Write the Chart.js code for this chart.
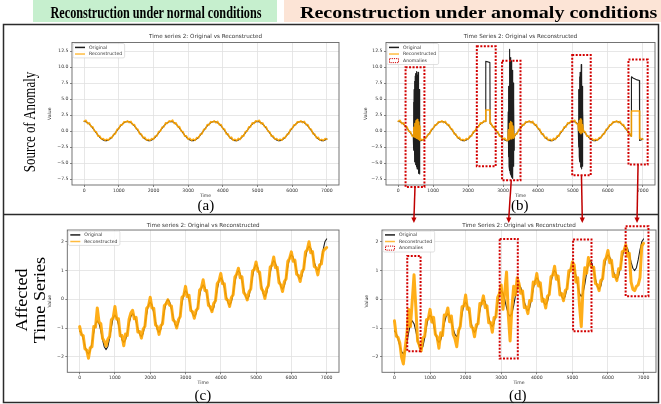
<!DOCTYPE html>
<html>
<head>
<meta charset="utf-8">
<script src="https://cdn.jsdelivr.net/npm/chart.js@4.4.1/dist/chart.umd.min.js"></script>
<style>
  html, body { margin: 0; padding: 0; background: #fff; }
  #page { position: relative; width: 661px; height: 404px; overflow: hidden; background: #fff; }
  canvas { position: absolute; }
  .txt { position: absolute; white-space: nowrap; line-height: 1; color: #000; transform-origin: center center; }
  .hdr { font: bold 17px "Liberation Serif", serif; }
  .side { font: 16px "Liberation Serif", serif; line-height: 18px; text-align: center; }
  .tag { font: 15px "Liberation Serif", serif; }
</style>
</head>
<body>
<div id="page">
  <canvas id="chartA" width="297" height="169" style="left:44px;top:30px"></canvas>
  <canvas id="chartB" width="297" height="169" style="left:360px;top:30px"></canvas>
  <canvas id="chartC" width="297" height="167" style="left:44px;top:219px"></canvas>
  <canvas id="chartD" width="297" height="167" style="left:361px;top:219px"></canvas>
  <canvas id="deco" width="661" height="404" style="left:0;top:0;pointer-events:none"></canvas>
  <div id="hdrL" class="txt hdr">Reconstruction under normal conditions</div>
  <div id="hdrR" class="txt hdr">Reconstruction under anomaly conditions</div>
  <div id="sideTop" class="txt side">Source of Anomaly</div>
  <div id="sideBot" class="txt side">Affected<br>Time Series</div>
  <div id="tagA" class="txt tag">(a)</div>
  <div id="tagB" class="txt tag">(b)</div>
  <div id="tagC" class="txt tag">(c)</div>
  <div id="tagD" class="txt tag">(d)</div>
</div>
<script>
// sample spacing of the series (time units)
const STEP = 50

const xTicks = [0, 1000, 2000, 3000, 4000, 5000, 6000, 7000]
const xTickLabels = ['0', '1000', '2000', '3000', '4000', '5000', '6000', '7000']
const yTicksTop = [-7.5, -5, -2.5, 0, 2.5, 5, 7.5, 10, 12.5]
const yTickLabelsTop = ['\u22127.5', '\u22125.0', '\u22122.5', '0.0', '2.5', '5.0', '7.5', '10.0', '12.5']
const yTicksBottom = [-2, -1, 0, 1, 2]
const yTickLabelsBottom = ['\u22122', '\u22121', '0', '1', '2']

// series 2, periodic signal (top row)
const sineOrig = [
  1.5, 1.45, 1.31, 1.09, 0.8, 0.46, 0.09, -0.28, -0.64, -0.96, -1.21, -1.4, -1.49, -1.49, -1.4, -1.21, -0.96, -0.64, -0.28, 0.09, 0.46, 0.8, 1.09, 1.31, 1.45,
  1.5, 1.45, 1.31, 1.09, 0.8, 0.46, 0.09, -0.28, -0.64, -0.96, -1.21, -1.4, -1.49, -1.49, -1.4, -1.21, -0.96, -0.64, -0.28, 0.09, 0.46, 0.8, 1.09, 1.31, 1.45,
  1.5, 1.45, 1.31, 1.09, 0.8, 0.46, 0.09, -0.28, -0.64, -0.96, -1.21, -1.4, -1.49, -1.49, -1.4, -1.21, -0.96, -0.64, -0.28, 0.09, 0.46, 0.8, 1.09, 1.31, 1.45,
  1.5, 1.45, 1.31, 1.09, 0.8, 0.46, 0.09, -0.28, -0.64, -0.96, -1.21, -1.4, -1.49, -1.49, -1.4, -1.21, -0.96, -0.64, -0.28, 0.09, 0.46, 0.8, 1.09, 1.31, 1.45,
  1.5, 1.45, 1.31, 1.09, 0.8, 0.46, 0.09, -0.28, -0.64, -0.96, -1.21, -1.4, -1.49, -1.49, -1.4, -1.21, -0.96, -0.64, -0.28, 0.09, 0.46, 0.8, 1.09, 1.31, 1.45,
  1.5, 1.45, 1.31, 1.09, 0.8, 0.46, 0.09, -0.28, -0.64, -0.96, -1.21, -1.4, -1.49, -1.49, -1.4, -1.21
]
const sineRec = [
  1.55, 1.7, 1.16, 1.29, 0.68, 0.68, -0.01, -0.1, -0.79, -0.76, -1.26, -1.15, -1.44, -1.27, -1.42, -1.01, -1.06, -0.49, -0.43, 0.29, 0.36, 1.0, 0.97, 1.46, 1.4,
  1.6, 1.33, 1.51, 0.99, 1.02, 0.38, 0.29, -0.43, -0.46, -1.06, -0.96, -1.42, -1.29, -1.47, -1.15, -1.29, -0.76, -0.76, -0.08, -0.01, 0.64, 0.65, 1.29, 1.21, 1.6,
  1.52, 1.72, 1.18, 1.3, 0.66, 0.7, -0.03, -0.08, -0.8, -0.74, -1.28, -1.12, -1.46, -1.25, -1.44, -0.99, -1.08, -0.47, -0.45, 0.3, 0.34, 1.02, 0.95, 1.48, 1.38,
  1.62, 1.3, 1.53, 0.97, 1.04, 0.36, 0.31, -0.45, -0.44, -1.08, -0.94, -1.44, -1.27, -1.5, -1.13, -1.31, -0.74, -0.78, -0.06, -0.03, 0.66, 0.63, 1.31, 1.19, 1.62,
  1.55, 1.7, 1.16, 1.29, 0.68, 0.68, -0.01, -0.1, -0.79, -0.76, -1.26, -1.15, -1.44, -1.27, -1.42, -1.01, -1.06, -0.49, -0.43, 0.29, 0.36, 1.0, 0.97, 1.46, 1.4,
  1.6, 1.33, 1.51, 0.99, 1.02, 0.38, 0.29, -0.43, -0.46, -1.06, -0.96, -1.42, -1.29, -1.47, -1.15, -1.29
]

// injected anomalies in the source series, [time, value]
const spike1Orig = [[430, -0.8], [438, 4.5], [446, -3.0], [454, 6.5], [462, -4.2], [470, 7.8], [478, -4.8], [486, 8.6], [494, -5.2], [502, 9.0], [510, -5.0], [518, 8.4], [526, -5.6], [534, 9.3], [542, -5.9], [550, 8.8], [558, -5.4], [566, 9.2], [574, -6.0], [582, 8.0], [590, -6.6], [598, 6.5], [606, -6.7], [614, 4.0], [622, -1.5]]
const shift2Orig = [[2500, 1.5], [2506, 10.9], [2540, 10.85], [2580, 10.8], [2624, 10.7], [2630, 1.2]]
const spike3Orig = [[3140, -1.5], [3148, 3.0], [3156, -4.0], [3164, 7.0], [3172, -5.5], [3180, 10.5], [3188, -6.2], [3196, 12.8], [3204, -6.5], [3212, 11.5], [3220, -6.8], [3228, 10.2], [3236, -7.0], [3244, 11.0], [3252, -7.2], [3260, 9.5], [3268, -7.4], [3276, 8.8], [3284, -6.8], [3292, 7.5], [3300, -5.5], [3308, 4.5], [3316, -3.0], [3322, -0.85]]
const spike4Orig = [[5150, 1.09], [5158, 4.0], [5166, -2.5], [5174, 6.5], [5182, -4.0], [5190, 8.5], [5198, -4.8], [5206, 9.2], [5214, -5.3], [5222, 8.8], [5230, -5.6], [5238, 10.4], [5246, -5.9], [5254, 9.0], [5262, -5.5], [5270, 7.0], [5278, -4.0], [5286, 3.5], [5292, 0.15]]
const shift5Orig = [[6670, -0.8], [6676, 8.5], [6720, 8.3], [6780, 8.15], [6840, 8.0], [6904, 7.9], [6910, -1.45]]

const spike1Rec = [[430, -0.85], [446, 0.6], [462, -0.9], [478, 1.2], [494, -1.0], [510, 1.6], [526, -1.1], [542, 1.8], [558, -1.2], [574, 1.4], [590, -1.3], [606, 0.8], [622, -1.45]]
const shift2Rec = [[2500, 1.5], [2506, 3.3], [2624, 3.3], [2630, 1.2]]
const spike3Rec = [[3140, -1.45], [3156, 0.2], [3172, -1.3], [3188, 1.2], [3204, -1.0], [3220, 1.5], [3236, -1.2], [3252, 1.3], [3268, -0.9], [3284, 0.8], [3300, -1.1], [3322, -0.9]]
const spike4Rec = [[5150, 1.1], [5166, 0.1], [5182, 1.6], [5198, -0.2], [5214, 1.9], [5230, -0.4], [5246, 1.7], [5262, -0.2], [5278, 1.0], [5292, 0.2]]
const shift5Rec = [[6670, -0.8], [6676, 3.15], [6904, 3.15], [6910, -1.2]]

// series 2, trend + seasonality (bottom row)
const trendOrig = [
  -1.1, -1.18, -1.38, -1.62, -1.82, -1.9,
  -1.79, -1.5, -1.15, -0.86, -0.75,
  -0.85, -1.1, -1.41, -1.66, -1.75,
  -1.64, -1.34, -0.96, -0.64, -0.55,
  -0.64, -0.88, -1.17, -1.41, -1.5,
  -1.41, -1.16, -0.85, -0.6, -0.5,
  -0.58, -0.78, -1.02, -1.22, -1.3,
  -1.19, -0.89, -0.51, -0.19, -0.1,
  -0.2, -0.46, -0.79, -1.05, -1.15,
  -1.04, -0.75, -0.4, -0.11, 0.0,
  -0.09, -0.33, -0.62, -0.86, -0.95,
  -0.83, -0.52, -0.13, 0.18, 0.3,
  0.21, -0.01, -0.29, -0.51, -0.6,
  -0.5, -0.22, 0.12, 0.4, 0.5,
  0.41, 0.19, -0.09, -0.31, -0.4,
  -0.29, 0.0, 0.35, 0.64, 0.75,
  0.66, 0.42, 0.13, -0.11, -0.2,
  -0.09, 0.21, 0.59, 0.89, 1.0,
  0.9, 0.66, 0.35, 0.1, 0.0,
  0.11, 0.41, 0.79, 1.09, 1.2,
  1.1, 0.82, 0.48, 0.2, 0.1,
  0.22, 0.53, 0.92, 1.23, 1.35,
  1.25, 1.01, 0.7, 0.45, 0.35,
  0.46, 0.76, 1.14, 1.44, 1.55,
  1.47, 1.26, 0.99, 0.78, 0.7,
  0.81, 1.1, 1.45, 1.74, 1.85,
  1.77, 1.56, 1.29, 1.08, 1.0,
  1.1, 1.38, 1.72, 2.0, 2.1
]
const trendRec = [
  -0.95, -1.23, -1.26, -1.72, -1.77, -2.05,
  -1.69, -1.65, -0.95, -0.96, -0.3,
  -0.8, -0.85, -1.36, -1.46, -1.63,
  -1.39, -1.29, -0.71, -0.64, -0.25,
  -0.69, -0.68, -1.27, -1.26, -1.62,
  -1.21, -1.26, -0.7, -0.48, -0.38,
  -0.68, -0.63, -1.14, -1.12, -1.35,
  -1.04, -0.94, -0.31, -0.24, 0.07,
  -0.3, -0.31, -0.89, -0.95, -1.22,
  -0.92, -0.85, -0.22, -0.16, -0.02,
  -0.21, -0.23, -0.72, -0.78, -1.0,
  -0.71, -0.6, 0.07, 0.13, 0.45,
  0.09, 0.14, -0.39, -0.43, -0.66,
  -0.38, -0.32, 0.32, 0.4, 0.68,
  0.31, 0.31, -0.21, -0.26, -0.43,
  -0.14, -0.05, 0.55, 0.64, 0.9,
  0.54, 0.54, 0.01, -0.03, -0.25,
  0.06, 0.16, 0.77, 0.87, 1.08,
  0.75, 0.78, 0.23, 0.15, -0.02,
  0.26, 0.36, 0.99, 1.04, 1.3,
  0.98, 0.94, 0.38, 0.28, 0.03,
  0.37, 0.48, 1.12, 1.18, 1.47,
  1.1, 1.11, 0.58, 0.5, 0.27,
  0.61, 0.71, 1.32, 1.42, 1.65,
  1.32, 1.36, 0.87, 0.83, 0.62,
  0.96, 1.05, 1.65, 1.72, 2.0,
  1.62, 1.66, 1.14, 1.1, 0.85,
  1.2, 1.23, 1.67, 1.75, 1.8
]
const trendRecAnom = [
  -0.75, -1.28, -1.33, -1.52, -2.02, -2.25, -1.69,
  -1.2, -0.35, -0.95, -0.05, 0.85, -0.25, -1.45, -1.6,
  -1.8, -1.34, -1.29, -0.71, -0.69, -0.35, -0.79, -0.63, -1.22, -1.31,
  -1.7, -1.16, -1.26, -0.55, -0.55, -0.3, -0.78, -0.58, -1.22, -1.37,
  -1.65, -1.09, -0.94, -0.26, -0.24, 0.15, -0.35, -0.31, -0.94, -1.0,
  -1.3, -0.89, -0.85, -0.15, -0.16, 0.12, -0.29, -0.23, -0.82, -0.81,
  -1.15, -0.63, -0.62, 0.07,
  0.2, 0.5, -0.35, 0.25, 0.95, -0.55, -1.45, -0.3, 0.45, 0.15, 0.75,
  0.55, 0.21, 0.29, -0.29, -0.26, -0.5, -0.04, -0.05, 0.6, 0.54,
  0.9, 0.46, 0.57, -0.07, -0.01, -0.3, 0.11, 0.16, 0.79, 0.84,
  1.15, 0.7, 0.81, 0.15, 0.2, -0.05, 0.31, 0.36, 0.99, 0.99,
  1.3, 1.2, 0.6, 0.75, -0.2, -0.95, 0.4, 1.1, 0.9, 1.45, 1.2,
  1.1, 1.11, 0.55, 0.5, 0.3, 0.66, 0.71, 1.34, 1.44, 1.7,
  1.27, 1.36, 0.79, 0.83, 0.65, 1.06, 1.05, 1.65, 1.69,
  1.9, 1.5, 1.6, 0.6, 0.35, 0.3, 0.45, 0.5, 0.75, 1.85, 1.95
]

// anomaly regions [t0, t1, v0, v1]
const boxesB = [[210, 750, -8.72, 9.97], [2250, 2790, -5.5, 13.24], [2970, 3500, -7.68, 11.0], [4980, 5510, -6.9, 11.9], [6590, 7140, -5.23, 11.17]]
const boxesD = [[360, 734, -1.81, 1.51], [2957, 3466, -2.06, 2.1], [5020, 5537, -1.11, 2.08], [6497, 7138, 0.11, 2.54]]
// which source box propagates into which affected box
const links = [[0, 0], [2, 1], [3, 2], [4, 3]]

const FONT = '"DejaVu Sans", sans-serif'
const SMALL = { family: FONT, size: 4.6 }
const INK = '#333'
const BLACK = '#1e1e1e'
const ORANGE = 'rgba(255,165,0,0.9)'
const RED = '#d20000'

function pts(vals) {
  return vals.map((y, i) => ({ x: i * STEP, y }))
}

function withAnomalies(vals, pieces) {
  const spans = pieces.map(p => [p[0][0], p[p.length - 1][0]])
  const out = pts(vals).filter(p => !spans.some(([a, b]) => p.x >= a && p.x <= b))
  pieces.forEach(p => p.forEach(([x, y]) => out.push({ x, y })))
  return out.sort((p, q) => p.x - q.x)
}

const spines = {
  id: 'spines',
  afterDatasetsDraw(chart) {
    const { ctx, chartArea: a } = chart
    ctx.save()
    ctx.strokeStyle = '#666'
    ctx.lineWidth = 0.9
    ctx.strokeRect(a.left, a.top, a.right - a.left, a.bottom - a.top)
    ctx.restore()
  }
}

const miniLegend = {
  id: 'miniLegend',
  afterDatasetsDraw(chart, args, opts) {
    const items = opts.items
    if (!items) return
    const { ctx, chartArea: a } = chart
    ctx.save()
    ctx.font = '4.6px ' + FONT
    const tw = Math.max(...items.map(it => ctx.measureText(it.text).width))
    const x0 = a.left + 1, y0 = a.top + 1
    const rowH = 6.6
    const w = 16 + tw + 2.5, h = 7.8 + (items.length - 1) * rowH
    ctx.beginPath()
    ctx.roundRect(x0, y0, w, h, 1.5)
    ctx.fillStyle = 'rgba(255,255,255,0.85)'
    ctx.fill()
    ctx.strokeStyle = '#d4d4d4'
    ctx.lineWidth = 0.7
    ctx.stroke()
    items.forEach((it, i) => {
      const cy = y0 + 3.9 + i * rowH
      if (it.kind === 'line') {
        ctx.beginPath()
        ctx.moveTo(x0 + 2, cy)
        ctx.lineTo(x0 + 12, cy)
        ctx.strokeStyle = it.color
        ctx.lineWidth = 1.5
        ctx.stroke()
      } else {
        ctx.setLineDash([1.2, 1])
        ctx.strokeStyle = it.color
        ctx.lineWidth = 1
        ctx.strokeRect(x0 + 2.5, cy - 2, 9, 4)
        ctx.setLineDash([])
      }
      ctx.fillStyle = INK
      ctx.textBaseline = 'middle'
      ctx.fillText(it.text, x0 + 16, cy)
    })
    ctx.restore()
  }
}

const anomalyBoxes = {
  id: 'anomalyBoxes',
  afterDraw(chart, args, opts) {
    const boxes = opts.boxes
    if (!boxes || !boxes.length) return
    const { ctx, scales: { x, y } } = chart
    ctx.save()
    ctx.strokeStyle = RED
    ctx.lineWidth = 2
    ctx.setLineDash([2, 1.5])
    boxes.forEach(([t0, t1, v0, v1]) => {
      const l = x.getPixelForValue(t0), r = x.getPixelForValue(t1)
      const tp = y.getPixelForValue(v1), bt = y.getPixelForValue(v0)
      ctx.strokeRect(l, tp, r - l, bt - tp)
    })
    ctx.restore()
  }
}

function makeChart(id, o) {
  const grid = { color: '#e1e1e1', lineWidth: 0.8, tickLength: 2, tickColor: '#666', tickWidth: 0.8 }
  return new Chart(document.getElementById(id), {
    type: 'line',
    data: { datasets: o.datasets },
    options: {
      responsive: false,
      animation: false,
      events: [],
      layout: { padding: { right: 2 } },
      elements: {
        point: { radius: 0 },
        line: { tension: 0, borderJoinStyle: 'round', borderCapStyle: 'round' }
      },
      plugins: {
        legend: { display: false },
        tooltip: { enabled: false },
        title: {
          display: true, text: o.title, fullSize: false, color: INK,
          font: { family: FONT, size: 5.6, weight: 'normal' },
          padding: { top: o.titlePad[0], bottom: o.titlePad[1] }
        },
        miniLegend: { items: o.legend },
        anomalyBoxes: { boxes: o.boxes || [] }
      },
      scales: {
        x: {
          type: 'linear', min: -350, max: 7350,
          afterFit: s => { s.height = o.xh },
          afterBuildTicks: s => { s.ticks = xTicks.map(v => ({ value: v })) },
          ticks: { callback: (v, i) => xTickLabels[i], font: SMALL, color: INK, padding: 1, maxRotation: 0, autoSkip: false },
          grid: grid,
          border: { display: false },
          title: { display: true, text: 'Time', font: SMALL, color: INK, padding: 0 }
        },
        y: {
          type: 'linear', min: o.yMin, max: o.yMax,
          afterFit: s => { s.width = o.yw },
          afterBuildTicks: s => { s.ticks = o.yTicks.map(v => ({ value: v })) },
          ticks: { callback: (v, i) => o.yLabels[i], font: SMALL, color: INK, padding: 1.5, autoSkip: false },
          grid: grid,
          border: { display: false },
          title: { display: true, text: 'Value', font: SMALL, color: INK, padding: { top: 3, bottom: 0 } }
        }
      }
    },
    plugins: [spines, miniLegend, anomalyBoxes]
  })
}

const legend2 = [
  { text: 'Original', kind: 'line', color: BLACK },
  { text: 'Reconstructed', kind: 'line', color: 'rgba(255,165,0,0.75)' }
]
const legend3 = legend2.concat([{ text: 'Anomalies', kind: 'box', color: RED }])

const topRow = { yMin: -8.42, yMax: 13.84, yTicks: yTicksTop, yLabels: yTickLabelsTop, titlePad: [3.6, 2.2], xh: 14 }
const bottomRow = { yMin: -2.54, yMax: 2.41, yTicks: yTicksBottom, yLabels: yTickLabelsBottom, titlePad: [3.3, 1.0], xh: 13.7 }

const chartA = makeChart('chartA', Object.assign({}, topRow, {
  title: 'Time series 2: Original vs Reconstructed', yw: 28, legend: legend2,
  datasets: [
    { label: 'Original', data: pts(sineOrig), borderColor: BLACK, borderWidth: 1.1, order: 2 },
    { label: 'Reconstructed', data: pts(sineRec), borderColor: ORANGE, borderWidth: 1.6, order: 1 }
  ]
}))

const chartB = makeChart('chartB', Object.assign({}, topRow, {
  title: 'Time Series 2: Original vs Reconstructed', yw: 26, legend: legend3, boxes: boxesB,
  datasets: [
    { label: 'Original', data: withAnomalies(sineOrig, [spike1Orig, shift2Orig, spike3Orig, spike4Orig, shift5Orig]), borderColor: BLACK, borderWidth: 1.1, order: 2 },
    { label: 'Reconstructed', data: withAnomalies(sineRec, [spike1Rec, shift2Rec, spike3Rec, spike4Rec, shift5Rec]), borderColor: ORANGE, borderWidth: 1.6, order: 1 }
  ]
}))

const chartC = makeChart('chartC', Object.assign({}, bottomRow, {
  title: 'Time series 2: Original vs Reconstructed', yw: 23.3, legend: legend2,
  datasets: [
    { label: 'Original', data: pts(trendOrig), borderColor: BLACK, borderWidth: 1.1, order: 2 },
    { label: 'Reconstructed', data: pts(trendRec), borderColor: ORANGE, borderWidth: 3, order: 1 }
  ]
}))

const chartD = makeChart('chartD', Object.assign({}, bottomRow, {
  title: 'Time Series 2: Original vs Reconstructed', yw: 21, legend: legend3, boxes: boxesD,
  datasets: [
    { label: 'Original', data: pts(trendOrig), borderColor: BLACK, borderWidth: 1.1, order: 2 },
    { label: 'Reconstructed', data: pts(trendRecAnom), borderColor: ORANGE, borderWidth: 3, order: 1 }
  ]
}))

// frame, header boxes and the arrows from source anomalies to affected regions
function drawDeco() {
  const cv = document.getElementById('deco')
  const ctx = cv.getContext('2d')
  ctx.clearRect(0, 0, cv.width, cv.height)
  ctx.fillStyle = '#c6efce'
  ctx.fillRect(33, 0, 244, 22)
  ctx.fillStyle = '#fce4d6'
  ctx.fillRect(284, 0, 377, 22)

  ctx.strokeStyle = '#2b2b2b'
  ctx.lineWidth = 1.5
  ctx.strokeRect(3.5, 24.5, 655, 378)
  ctx.beginPath()
  ctx.moveTo(3.5, 214.5)
  ctx.lineTo(658.5, 214.5)
  ctx.stroke()

  const page = document.getElementById('page').getBoundingClientRect()
  const rb = document.getElementById('chartB').getBoundingClientRect()
  const rd = document.getElementById('chartD').getBoundingClientRect()
  ctx.strokeStyle = '#c00000'
  ctx.fillStyle = '#c00000'
  ctx.lineWidth = 1.5
  links.forEach(([bi, di]) => {
    const sb = boxesB[bi], sd = boxesD[di]
    const x1 = rb.left - page.left + chartB.scales.x.getPixelForValue((sb[0] + sb[1]) / 2)
    const y1 = rb.top - page.top + chartB.scales.y.getPixelForValue(sb[2])
    const x2 = rd.left - page.left + chartD.scales.x.getPixelForValue((sd[0] + sd[1]) / 2)
    const y2 = rd.top - page.top + 4
    ctx.beginPath()
    ctx.moveTo(x1, y1)
    ctx.lineTo(x2, y2 - 4)
    ctx.stroke()
    ctx.beginPath()
    ctx.moveTo(x2, y2)
    ctx.lineTo(x2 - 2.6, y2 - 5.5)
    ctx.lineTo(x2 + 2.6, y2 - 5.5)
    ctx.closePath()
    ctx.fill()
  })
}

function place(id, cx, cy, len, rotate) {
  const el = document.getElementById(id)
  el.style.transform = 'none'
  const w = el.offsetWidth, h = el.offsetHeight
  const k = len ? len / w : 1
  el.style.left = (cx - w / 2) + 'px'
  el.style.top = (cy - h / 2) + 'px'
  el.style.transform = (rotate ? 'rotate(-90deg) ' : '') + 'scaleX(' + k + ')'
}

function layoutText() {
  place('hdrL', 155.5, 12.5, 211)
  place('hdrR', 478.5, 12.5, 357)
  place('sideTop', 30, 122, 100, true)
  place('sideBot', 31, 300, 86, true)
  place('tagA', 206, 205)
  place('tagB', 520, 205)
  place('tagC', 203, 395)
  place('tagD', 518, 395)
}

drawDeco()
layoutText()
document.fonts.ready.then(layoutText)
</script>
</body>
</html>
